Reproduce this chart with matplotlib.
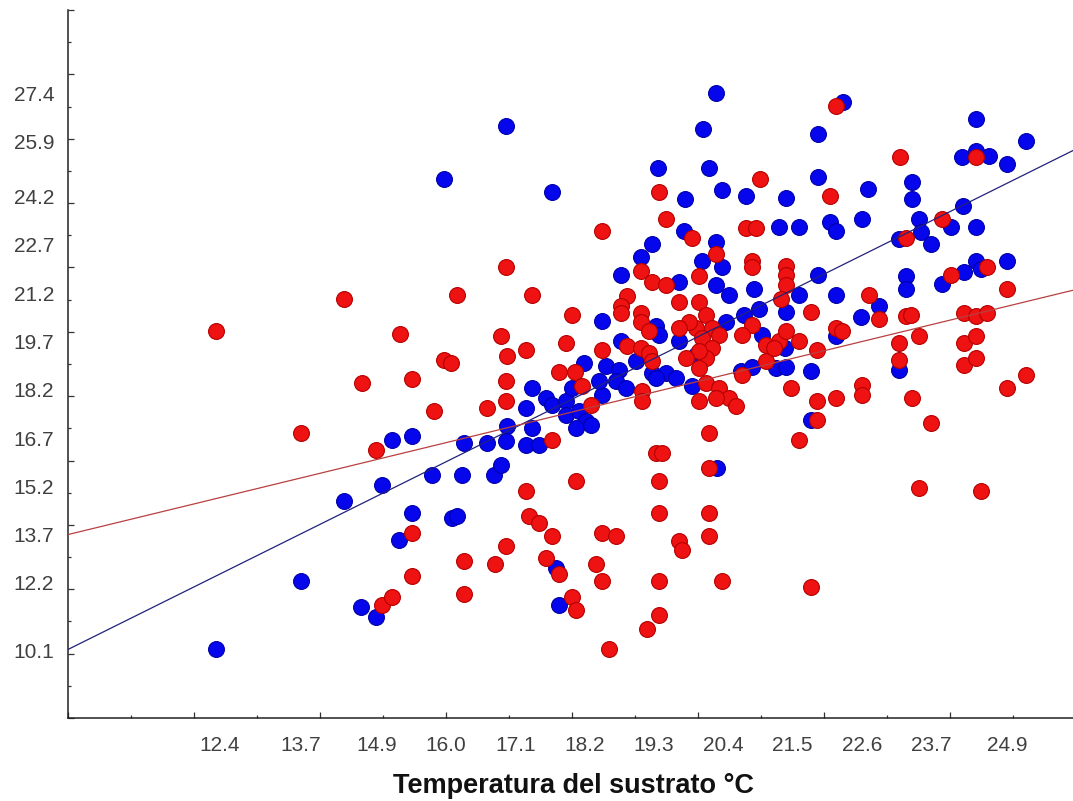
import numpy as np
import matplotlib.pyplot as plt
from matplotlib.ticker import MultipleLocator

plt.rcParams['font.family'] = ['Liberation Sans', 'DejaVu Sans']

# puntos (temperatura del sustrato, valor y)
blue_points = [
    (12.35, 10.14), (13.70, 12.27), (14.38, 14.75), (14.98, 15.24), (15.14, 16.64),
    (15.46, 16.76), (15.46, 14.38), (15.25, 13.54), (14.65, 11.44), (14.89, 11.13),
    (15.78, 15.55), (16.25, 15.55), (16.76, 15.55), (16.87, 15.86), (16.10, 14.22),
    (16.17, 14.28), (16.29, 16.55), (16.65, 16.55), (16.97, 17.07), (16.95, 26.39),
    (15.97, 24.75), (20.29, 27.41), (20.08, 26.30), (19.37, 25.09), (20.17, 25.09),
    (17.68, 24.35), (19.79, 24.13), (20.38, 24.41), (20.76, 24.22), (19.78, 23.14),
    (21.29, 23.26), (19.27, 22.74), (20.29, 22.80), (20.06, 22.21), (20.38, 22.02),
    (19.10, 22.33), (18.78, 21.75), (19.70, 21.56), (20.29, 21.44), (20.89, 21.34),
    (20.49, 21.13), (18.48, 20.35), (20.73, 20.51), (20.97, 20.72), (21.02, 19.89),
    (20.44, 20.32), (19.33, 20.17), (19.38, 19.89), (18.78, 19.70), (19.70, 19.70),
    (19.97, 19.27), (18.19, 19.02), (18.54, 18.93), (18.75, 18.80), (19.02, 19.08),
    (19.27, 18.71), (19.49, 18.71), (20.68, 18.77), (20.86, 18.90), (21.24, 18.87),
    (17.37, 18.25), (17.27, 17.63), (17.59, 17.94), (17.68, 17.72), (17.90, 17.85),
    (18.00, 18.25), (17.90, 17.41), (18.11, 17.54), (18.22, 17.23), (18.06, 17.01),
    (18.30, 17.10), (16.95, 16.61), (17.27, 16.48), (17.48, 16.48), (17.37, 17.01),
    (18.48, 18.03), (18.43, 18.46), (18.70, 18.46), (18.86, 18.25), (19.33, 18.56),
    (19.65, 18.56), (19.90, 18.31), (20.30, 15.77), (17.75, 12.67), (17.79, 11.50),
    (24.41, 26.61), (25.21, 25.93), (24.19, 25.43), (24.41, 25.62), (24.62, 25.46),
    (24.90, 25.21), (21.90, 26.14), (22.30, 27.13), (21.90, 24.81), (21.40, 24.16),
    (22.70, 24.44), (23.40, 24.66), (23.40, 24.13), (21.60, 23.26), (22.10, 23.42),
    (22.19, 23.14), (22.60, 23.51), (23.51, 23.51), (24.02, 23.26), (24.21, 23.91),
    (24.41, 23.26), (23.19, 22.89), (23.54, 23.11), (23.70, 22.74), (21.60, 21.13),
    (21.40, 20.63), (21.90, 21.75), (22.19, 21.13), (22.87, 20.79), (22.59, 20.45),
    (23.30, 21.72), (23.30, 21.34), (23.87, 21.50), (24.22, 21.87), (24.41, 22.21),
    (24.49, 21.96), (24.90, 22.21), (22.19, 19.86), (21.38, 19.49), (23.19, 18.80),
    (21.40, 18.90), (21.79, 18.77), (21.79, 17.26),
]

red_points = [
    (16.95, 22.02), (14.38, 21.03), (16.17, 21.13), (12.35, 20.04), (15.27, 19.92),
    (16.87, 19.86), (15.97, 19.11), (16.08, 19.02), (15.46, 18.53), (14.67, 18.40),
    (16.97, 19.24), (16.95, 18.46), (15.81, 17.54), (16.65, 17.63), (16.95, 17.85),
    (13.70, 16.85), (14.89, 16.33), (15.46, 13.76), (16.95, 13.36), (16.29, 12.89),
    (16.78, 12.77), (15.46, 12.40), (16.29, 11.84), (14.98, 11.50), (15.14, 11.75),
    (20.98, 24.75), (19.38, 24.35), (19.49, 23.51), (18.48, 23.14), (19.90, 22.92),
    (20.76, 23.23), (20.92, 23.23), (20.29, 22.43), (20.86, 22.21), (20.86, 22.02),
    (19.10, 21.90), (19.27, 21.56), (19.49, 21.44), (20.02, 21.72), (17.37, 21.13),
    (19.70, 20.94), (18.87, 21.10), (18.78, 20.79), (18.78, 20.57), (19.10, 20.57),
    (19.10, 20.32), (18.00, 20.51), (20.02, 20.94), (20.13, 20.51), (19.97, 20.11),
    (20.22, 20.11), (20.06, 19.80), (20.33, 19.89), (20.22, 19.49), (20.13, 19.18),
    (20.02, 19.39), (19.86, 20.32), (19.70, 20.11), (20.86, 20.20), (20.70, 19.89),
    (21.08, 19.58), (21.29, 19.70), (19.22, 20.01), (17.90, 19.64), (18.48, 19.42),
    (17.27, 19.42), (18.87, 19.55), (19.10, 19.49), (19.22, 19.33), (19.27, 19.08),
    (19.81, 19.18), (20.02, 18.87), (17.79, 18.75), (18.05, 18.75), (18.16, 18.31),
    (21.08, 19.08), (17.68, 16.64), (18.30, 17.72), (19.11, 18.15), (19.11, 17.85),
    (20.02, 17.85), (20.13, 18.40), (20.33, 18.25), (20.49, 17.94), (20.60, 17.69),
    (20.29, 17.94), (20.70, 18.65), (20.17, 16.85), (19.33, 16.24), (19.43, 16.24),
    (20.17, 15.77), (18.06, 15.37), (19.38, 15.37), (17.27, 15.06), (17.32, 14.28),
    (17.48, 14.07), (17.68, 13.67), (18.48, 13.76), (18.70, 13.67), (19.38, 14.38),
    (20.17, 14.38), (20.17, 13.67), (19.70, 13.51), (19.75, 13.23), (17.59, 12.98),
    (18.38, 12.77), (17.79, 12.46), (18.48, 12.27), (19.38, 12.27), (20.38, 12.27),
    (18.00, 11.75), (18.06, 11.37), (19.38, 11.19), (19.19, 10.76), (18.59, 10.14),
    (22.19, 27.01), (24.41, 25.43), (23.21, 25.43), (22.10, 24.22), (23.87, 23.51),
    (23.30, 22.92), (21.40, 22.06), (21.40, 21.75), (21.40, 21.44), (21.32, 21.03),
    (22.71, 21.13), (22.87, 20.41), (21.79, 20.63), (24.02, 21.75), (24.59, 22.02),
    (24.90, 21.34), (24.22, 20.57), (24.41, 20.48), (24.59, 20.57), (23.30, 20.48),
    (23.38, 20.51), (23.51, 19.86), (23.19, 19.64), (23.19, 19.11), (24.22, 19.64),
    (24.41, 19.86), (24.22, 18.96), (24.41, 19.18), (25.21, 18.65), (22.19, 20.11),
    (22.29, 20.04), (21.40, 20.04), (21.60, 19.73), (21.89, 19.42), (21.21, 19.49),
    (21.48, 18.25), (21.89, 17.85), (22.19, 17.94), (22.60, 18.34), (22.60, 18.03),
    (23.40, 17.94), (23.70, 17.16), (21.89, 17.26), (21.60, 16.64), (24.90, 18.25),
    (23.51, 15.15), (24.49, 15.06), (21.79, 12.06),
]

# rectas de regresion (pendiente, ordenada)
blue_fit = [0.972, 0.41]
red_fit = [0.476, 8.94]

x_labels = [12.4, 13.7, 14.9, 16.0, 17.1, 18.2, 19.3, 20.4, 21.5, 22.6, 23.7, 24.9]
y_labels = [10.1, 12.2, 13.7, 15.2, 16.7, 18.2, 19.7, 21.2, 22.7, 24.2, 25.9, 27.4]

XMIN, XMAX = 10, 25.95
YMIN, YMAX = 8, 30

W, H = 1073, 801
fig = plt.figure(figsize=(W / 100, H / 100), dpi=100)
ax = fig.add_axes([68 / W, 1 - 718 / H, 1 - 68 / W, (718 - 10) / H])

bx, by = zip(*blue_points)
rx, ry = zip(*red_points)
ax.scatter(bx, by, s=130, c='#0606ec', edgecolors='#0000a8', linewidths=0.8, zorder=3)
ax.scatter(rx, ry, s=130, c='#ee1212', edgecolors='#b40000', linewidths=0.8, zorder=3)

xs = np.array([XMIN, XMAX])
ax.plot(xs, np.polyval(blue_fit, xs), color='#22227a', lw=0.9, zorder=4)
ax.plot(xs, np.polyval(red_fit, xs), color='#b84040', lw=0.9, zorder=4)

ax.set_xlim(XMIN, XMAX)
ax.set_ylim(YMIN, YMAX)

for s in ['top', 'right']:
    ax.spines[s].set_visible(False)
for s in ['left', 'bottom']:
    ax.spines[s].set_color('#222222')
    ax.spines[s].set_linewidth(1.1)

# marcas de division: enteros pares largos, impares cortos
ax.xaxis.set_major_locator(MultipleLocator(2))
ax.xaxis.set_minor_locator(MultipleLocator(1))
ax.yaxis.set_major_locator(MultipleLocator(2))
ax.yaxis.set_minor_locator(MultipleLocator(1))
ax.tick_params(which='major', direction='in', length=4, width=0.9, color='#333333',
               labelbottom=False, labelleft=False)
ax.tick_params(which='minor', direction='in', length=2, width=0.9, color='#333333')

# etiquetas en los valores redondeados
secx = ax.secondary_xaxis('bottom')
secx.set_xticks(x_labels, [f'{v:.1f}' for v in x_labels])
secx.tick_params(length=0, pad=13, labelsize=15, labelcolor='#404040')
secx.spines['bottom'].set_visible(False)

secy = ax.secondary_yaxis('left')
secy.set_yticks(y_labels, [f'{v:.1f}' for v in y_labels])
secy.tick_params(length=0, pad=10, labelsize=15, labelcolor='#404040')
secy.spines['left'].set_visible(False)

fig.text(573 / W, 1 - 786 / H, 'Temperatura del sustrato °C', ha='center', va='center',
         fontsize=19.5, fontweight='bold', color='#111111')

fig.savefig('out.png', dpi=100, facecolor='white')
